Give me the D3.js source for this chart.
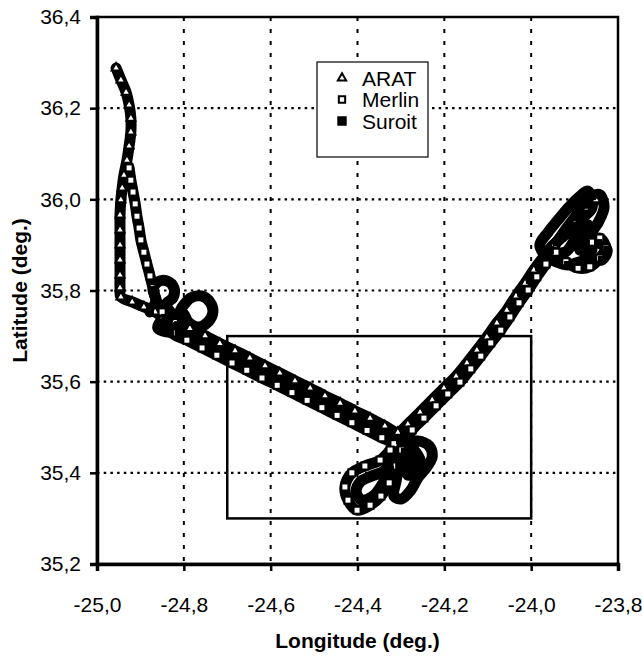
<!DOCTYPE html>
<html>
<head>
<meta charset="utf-8">
<script src="https://cdn.jsdelivr.net/npm/d3@7"></script>
<style>
	body { margin: 0; background: #fff; }
	text { font-family: "Liberation Sans", Arial, sans-serif; fill: #000; }
	.title { font-weight: bold; }
</style>
</head>
<body>
<div id="chart"></div>
<script>

///////////////////////////////////////////////////////////////////////////
//////////////////////////////// Data /////////////////////////////////////
///////////////////////////////////////////////////////////////////////////

var xTicks = [-25.0, -24.8, -24.6, -24.4, -24.2, -24.0, -23.8];
var yTicks = [35.2, 35.4, 35.6, 35.8, 36.0, 36.2, 36.4];
var seriesNames = ["ARAT", "Merlin", "Suroit"];

//study area box [lon, lat] corners
var studyBox = [[-24.7, 35.7], [-24.0, 35.3]];

//[longitude, latitude]
var arat = [
	[-24.956,36.288],[-24.945,36.262],[-24.933,36.235],[-24.926,36.207],[-24.922,36.178],[-24.922,36.148],
	[-24.926,36.117],[-24.931,36.086],[-24.938,36.053],[-24.942,36.025],[-24.945,35.999],[-24.947,35.966],
	[-24.947,35.933],[-24.947,35.900],[-24.947,35.867],[-24.947,35.834],[-24.947,35.806],[-24.945,35.786],
	[-24.919,35.775],[-24.892,35.764],[-24.866,35.753],[-24.848,35.742],
	[-24.820,35.734],[-24.786,35.717],[-24.751,35.701],[-24.717,35.684],[-24.682,35.668],[-24.648,35.652],
	[-24.613,35.635],[-24.579,35.619],[-24.544,35.602],[-24.509,35.586],[-24.475,35.569],[-24.440,35.553],
	[-24.406,35.536],[-24.371,35.520],[-24.337,35.503],[-24.307,35.489],
	[-24.284,35.507],[-24.256,35.533],[-24.228,35.560],[-24.201,35.586],[-24.173,35.612],[-24.148,35.641],
	[-24.125,35.669],[-24.102,35.698],[-24.079,35.729],[-24.056,35.757],[-24.035,35.788],[-24.014,35.816],
	[-23.994,35.845],[-23.971,35.874],[-23.947,35.900],[-23.922,35.928],[-23.897,35.955],[-23.871,35.981],
	[-23.851,35.999]
];

var merlin = [
	[-24.926,36.069],[-24.922,36.042],[-24.917,36.016],[-24.912,35.990],[-24.908,35.963],[-24.903,35.937],
	[-24.899,35.911],[-24.892,35.884],[-24.885,35.858],[-24.878,35.832],[-24.871,35.806],[-24.864,35.779],
	[-24.850,35.753],
	[-24.827,35.707],[-24.793,35.691],[-24.758,35.674],[-24.724,35.658],[-24.689,35.641],[-24.655,35.625],
	[-24.620,35.608],[-24.585,35.592],[-24.551,35.576],[-24.516,35.559],[-24.482,35.543],[-24.447,35.526],
	[-24.413,35.510],[-24.378,35.493],[-24.344,35.477],[-24.316,35.464],
	[-24.325,35.450],[-24.348,35.428],[-24.383,35.415],[-24.413,35.400],[-24.429,35.369],[-24.422,35.340],
	[-24.401,35.318],[-24.371,35.329],[-24.346,35.349],[-24.327,35.378],[-24.311,35.415],[-24.298,35.450],
	[-24.274,35.494],[-24.247,35.520],[-24.219,35.547],[-24.192,35.573],[-24.164,35.599],[-24.139,35.628],
	[-24.116,35.656],[-24.093,35.685],[-24.070,35.713],[-24.049,35.742],[-24.028,35.773],[-24.007,35.801],
	[-23.987,35.830],[-23.966,35.858],[-23.943,35.884],[-23.920,35.863],[-23.892,35.849],[-23.865,35.852],
	[-23.842,35.871],[-23.828,35.893],[-23.842,35.915],[-23.860,35.906]
];

var suroit = [
	[-24.878,35.753],[-24.864,35.779],[-24.871,35.801],[-24.860,35.819],[-24.839,35.821],[-24.823,35.806],
	[-24.825,35.784],[-24.841,35.770],[-24.818,35.744],[-24.802,35.766],[-24.784,35.784],[-24.760,35.788],
	[-24.740,35.775],[-24.733,35.753],[-24.744,35.731],[-24.767,35.720],[-24.790,35.731],[-24.800,35.748],
	[-24.809,35.722],[-24.843,35.740],[-24.860,35.718],[-24.832,35.709],[-24.813,35.724],
	[-24.774,35.697],[-24.740,35.680],[-24.705,35.664],[-24.671,35.648],[-24.636,35.631],[-24.602,35.615],
	[-24.567,35.598],[-24.532,35.582],[-24.498,35.565],[-24.463,35.549],[-24.429,35.532],[-24.394,35.516],
	[-24.360,35.499],[-24.325,35.483],[-24.302,35.472],
	[-24.337,35.406],[-24.367,35.393],[-24.394,35.380],[-24.403,35.358],[-24.390,35.340],[-24.364,35.349],
	[-24.344,35.373],[-24.325,35.406],
	[-24.291,35.446],[-24.304,35.415],[-24.311,35.382],[-24.316,35.349],[-24.298,35.343],[-24.277,35.362],
	[-24.261,35.389],[-24.242,35.411],[-24.228,35.435],[-24.235,35.459],[-24.261,35.470],[-24.284,35.463],
	[-24.279,35.428],[-24.284,35.395],[-24.268,35.402],[-24.256,35.428],
	[-24.293,35.485],[-24.265,35.514],[-24.238,35.540],[-24.210,35.566],[-24.182,35.593],[-24.155,35.621],
	[-24.132,35.650],[-24.109,35.678],[-24.086,35.707],[-24.065,35.735],[-24.044,35.766],[-24.023,35.795],
	[-24.003,35.823],[-23.982,35.852],[-23.961,35.880],[-23.941,35.906],[-23.920,35.935],[-23.899,35.961],
	[-23.878,35.988],[-23.860,36.007],[-23.842,36.010],[-23.832,35.983],[-23.844,35.952],[-23.860,35.928],
	[-23.874,35.902],[-23.846,35.904],[-23.825,35.889],[-23.837,35.867],[-23.860,35.871],[-23.888,35.863],
	[-23.915,35.856],[-23.943,35.863],[-23.968,35.878],[-23.980,35.900],[-23.961,35.928],[-23.938,35.955],
	[-23.915,35.981],[-23.892,36.003],[-23.869,36.018],
	[-23.860,35.981],[-23.888,35.955],[-23.922,35.922],[-23.957,35.889],[-23.922,35.884],[-23.899,35.911],
	[-23.869,35.944],[-23.888,35.889],[-23.860,35.889]
];

///////////////////////////////////////////////////////////////////////////
//////////////////// Set up and initiate svg containers ///////////////////
///////////////////////////////////////////////////////////////////////////

var margin = {
	top: 17,
	right: 24,
	bottom: 95,
	left: 97
};

var width = 642 - margin.left - margin.right;
var height = 659 - margin.top - margin.bottom;

var svgRoot = d3.select("#chart")
	.append("svg")
	.attr("width", 642)
	.attr("height", 659);

var svg = svgRoot.append("g")
	.attr("transform", "translate(" + margin.left + "," + margin.top + ")");

var x = d3.scaleLinear().domain([-25.0, -23.8]).range([0, width]);
var y = d3.scaleLinear().domain([35.2, 36.4]).range([height, 0]);

//comma decimal, plain hyphen minus
var fmt = d3.formatLocale({decimal: ",", thousands: ".", grouping: [3], currency: ["", ""], minus: "-"}).format(".1f");

///////////////////////////////////////////////////////////////////////////
///////////////////////////////// Grid ////////////////////////////////////
///////////////////////////////////////////////////////////////////////////

svg.append("g")
	.selectAll("line")
	.data(xTicks.slice(1, -1))
	.enter().append("line")
	.attr("x1", function(d) { return x(d); })
	.attr("x2", function(d) { return x(d); })
	.attr("y1", 0)
	.attr("y2", height)
	.style("stroke", "#000")
	.style("stroke-width", 2)
	.style("stroke-dasharray", "4,8");

svg.append("g")
	.selectAll("line")
	.data(yTicks.slice(1, -1))
	.enter().append("line")
	.attr("x1", 0)
	.attr("x2", width)
	.attr("y1", function(d) { return y(d); })
	.attr("y2", function(d) { return y(d); })
	.style("stroke", "#000")
	.style("stroke-width", 2.2)
	.style("stroke-dasharray", "2.5,4.2");

//study area box
svg.append("rect")
	.attr("x", x(studyBox[0][0]))
	.attr("y", y(studyBox[0][1]))
	.attr("width", x(studyBox[1][0]) - x(studyBox[0][0]))
	.attr("height", y(studyBox[1][1]) - y(studyBox[0][1]))
	.style("fill", "none")
	.style("stroke", "#000")
	.style("stroke-width", 2.5);

///////////////////////////////////////////////////////////////////////////
//////////////////////////////// Tracks ///////////////////////////////////
///////////////////////////////////////////////////////////////////////////

var line = d3.line()
	.x(function(d) { return x(d[0]); })
	.y(function(d) { return y(d[1]); })
	.curve(d3.curveCatmullRom.alpha(0.5));

[arat, merlin, suroit].forEach(function(track) {
	svg.append("path")
		.datum(track)
		.attr("d", line)
		.style("fill", "none")
		.style("stroke", "#000")
		.style("stroke-width", 11)
		.style("stroke-linejoin", "round")
		.style("stroke-linecap", "round");
});

var triangle = d3.symbol().type(d3.symbolTriangle).size(34);

svg.append("g")
	.selectAll("path")
	.data(arat)
	.enter().append("path")
	.attr("d", triangle)
	.attr("transform", function(d) { return "translate(" + x(d[0]) + "," + y(d[1]) + ")"; })
	.style("fill", "#fff")
	.style("stroke", "#000")
	.style("stroke-width", 2);

svg.append("g")
	.selectAll("rect")
	.data(merlin)
	.enter().append("rect")
	.attr("x", function(d) { return x(d[0]) - 3.5; })
	.attr("y", function(d) { return y(d[1]) - 3.5; })
	.attr("width", 7)
	.attr("height", 7)
	.style("fill", "#fff")
	.style("stroke", "#000")
	.style("stroke-width", 2);

svg.append("g")
	.selectAll("rect")
	.data(suroit)
	.enter().append("rect")
	.attr("x", function(d) { return x(d[0]) - 4; })
	.attr("y", function(d) { return y(d[1]) - 4; })
	.attr("width", 8)
	.attr("height", 8)
	.style("fill", "#000");

///////////////////////////////////////////////////////////////////////////
///////////////////////////////// Axes ////////////////////////////////////
///////////////////////////////////////////////////////////////////////////

//frame
svg.append("rect")
	.attr("width", width)
	.attr("height", height)
	.style("fill", "none")
	.style("stroke", "#000")
	.style("stroke-width", 2.5);

var xAxis = svg.append("g")
	.attr("transform", "translate(0," + height + ")")
	.call(d3.axisBottom(x).tickValues(xTicks).tickFormat(fmt).tickSize(7).tickPadding(26));
xAxis.select(".domain").style("stroke-width", 3.5);
xAxis.selectAll(".tick line").style("stroke-width", 2.5);
xAxis.selectAll("text")
	.style("font-size", "21px")
	.attr("fill", "#000");

var yAxis = svg.append("g")
	.call(d3.axisLeft(y).tickValues(yTicks).tickFormat(fmt).tickSize(7).tickPadding(9));
yAxis.select(".domain").style("stroke-width", 3.5);
yAxis.selectAll(".tick line").style("stroke-width", 2.5);
yAxis.selectAll("text")
	.style("font-size", "21px")
	.attr("fill", "#000");

svgRoot.append("text")
	.attr("class", "title")
	.attr("x", margin.left + width / 2)
	.attr("y", 648)
	.style("text-anchor", "middle")
	.style("font-size", "21px")
	.text("Longitude (deg.)");

svgRoot.append("text")
	.attr("class", "title")
	.attr("transform", "translate(27," + (margin.top + height / 2) + ") rotate(-90)")
	.style("text-anchor", "middle")
	.style("font-size", "21px")
	.text("Latitude (deg.)");

///////////////////////////////////////////////////////////////////////////
//////////////////////////////// Legend ///////////////////////////////////
///////////////////////////////////////////////////////////////////////////

var legend = svgRoot.append("g")
	.attr("transform", "translate(317,62)");

legend.append("rect")
	.attr("width", 111)
	.attr("height", 95)
	.style("fill", "#fff")
	.style("stroke", "#000")
	.style("stroke-width", 1.2);

var legendItem = legend.selectAll(".legendItem")
	.data(seriesNames)
	.enter().append("g")
	.attr("class", "legendItem")
	.attr("transform", function(d, i) { return "translate(0," + (16 + i * 21.5) + ")"; });

legendItem.append("path")
	.attr("transform", "translate(25,0)")
	.attr("d", function(d, i) {
		if (i === 0) return d3.symbol().type(d3.symbolTriangle).size(30)();
		return d3.symbol().type(d3.symbolSquare).size(i === 1 ? 40 : 55)();
	})
	.style("fill", function(d, i) { return i === 2 ? "#000" : "#fff"; })
	.style("stroke", "#000")
	.style("stroke-width", 2);

legendItem.append("text")
	.attr("x", 45)
	.attr("y", 7.5)
	.style("font-size", "21px")
	.text(function(d) { return d; });

</script>
</body>
</html>
